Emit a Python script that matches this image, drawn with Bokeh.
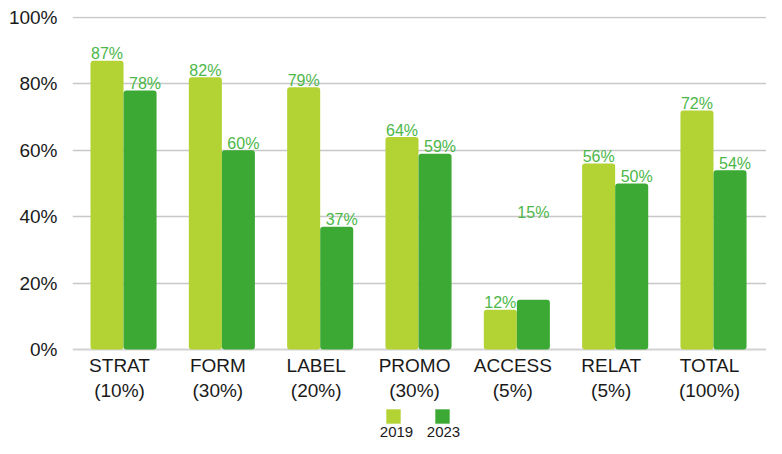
from bokeh.plotting import figure
from bokeh.models import Range1d, FixedTicker, ColumnDataSource, Legend, LegendItem, Label, Span
from bokeh.core.properties import value
from bokeh.embed import file_html
from bokeh.resources import INLINE

# ---- data ----
categories = ["STRAT", "FORM", "LABEL", "PROMO", "ACCESS", "RELAT", "TOTAL"]
weights = ["10%", "30%", "20%", "30%", "5%", "5%", "100%"]
series = ["2019", "2023"]
values_2019 = [87, 82, 79, 64, 12, 56, 72]
values_2023 = [78, 60, 37, 59, 15, 50, 54]
y_ticks = [0, 20, 40, 60, 80, 100]

# ---- styles ----
C2019 = "#b3d335"
C2023 = "#3ca935"
LABEL_GREEN = "#4cb748"
TEXT = "#1a1a1a"
FONT = "Liberation Sans"
BAR_W = 0.336
# per-label pixel offsets (the 2023 ACCESS label floats high in the original)
dx_2019 = [0, 0, 0, 0, 0, 0, 0]
dy_2019 = [-7, -7, -7, -7, -7, -7, -7]
dx_2023 = [5, 5, 5, 5, 0, 5, 5]
dy_2023 = [-7, -7, -7, -7, -87, -7, -7]

idx = list(range(len(categories)))
src = ColumnDataSource(dict(
    x=idx,
    zero=[0] * len(idx),
    cat=[f"{c}\n({w})" for c, w in zip(categories, weights)],
    x19=[i - BAR_W / 2 for i in idx],
    x23=[i + BAR_W / 2 for i in idx],
    v19=values_2019,
    v23=values_2023,
    t19=[f"{v}%" for v in values_2019],
    t23=[f"{v}%" for v in values_2023],
    dx19=dx_2019, dy19=dy_2019, dx23=dx_2023, dy23=dy_2023,
))

p = figure(width=766, height=438, output_backend="svg", toolbar_location=None,
           x_range=Range1d(-0.519, 6.539), y_range=Range1d(-26.8, 100.3),
           min_border_left=72, min_border_right=0, min_border_top=16, min_border_bottom=0)
p.outline_line_color = None
p.xaxis.visible = False

# baseline
p.add_layout(Span(location=0, dimension="width", line_color="#d2d2d2", line_width=2, level="underlay"))

r19 = p.vbar(x="x19", top="v19", bottom=0, width=BAR_W, source=src,
             fill_color=C2019, line_color=None, border_radius=3)
r23 = p.vbar(x="x23", top="v23", bottom=0, width=BAR_W, source=src,
             fill_color=C2023, line_color=None, border_radius=3)

for xf, yf, tf, dxf, dyf in [("x19", "v19", "t19", "dx19", "dy19"), ("x23", "v23", "t23", "dx23", "dy23")]:
    p.text(x=xf, y=yf, text=tf, x_offset=dxf, y_offset=dyf, source=src,
           text_align="center", text_baseline="alphabetic",
           text_font=value(FONT), text_font_size="16px", text_color=LABEL_GREEN)

# category labels (two lines) under the baseline
p.text(x="x", y="zero", text="cat", source=src, x_offset=-4, y_offset=5,
       text_align="center", text_baseline="top", text_line_height=1.22,
       text_font=value(FONT), text_font_size="19px", text_color=TEXT)

# y axis
p.yaxis.ticker = FixedTicker(ticks=y_ticks)
p.yaxis.major_label_overrides = {t: f"{t}%" for t in y_ticks}
p.yaxis.axis_line_color = None
p.yaxis.major_tick_line_color = None
p.yaxis.minor_tick_line_color = None
p.yaxis.major_label_standoff = 9
p.yaxis.major_label_text_font = FONT
p.yaxis.major_label_text_font_size = "19px"
p.yaxis.major_label_text_color = TEXT

# grid
p.xgrid.grid_line_color = None
p.ygrid.ticker = FixedTicker(ticks=y_ticks[1:])
p.ygrid.grid_line_color = "#c8c8c8"
p.ygrid.grid_line_width = 1.5

# legend: squares with year labels underneath
legend = Legend(items=[LegendItem(label=value(" "), renderers=[r19]),
                       LegendItem(label=value(" "), renderers=[r23])],
                orientation="horizontal", location=(312, 13),
                glyph_width=18, glyph_height=18, label_width=31, label_standoff=0,
                spacing=0, padding=0, margin=0, border_line_color=None,
                background_fill_alpha=0, label_text_font_size="1px")
p.add_layout(legend)
for name, sx in zip(series, [324, 371]):
    p.add_layout(Label(x=sx, y=7, x_units="screen", y_units="screen", text=name,
                       text_align="center", text_baseline="alphabetic",
                       text_font=FONT, text_font_size="15px", text_color=TEXT))

open("out.html", "w").write(file_html(p, INLINE))
